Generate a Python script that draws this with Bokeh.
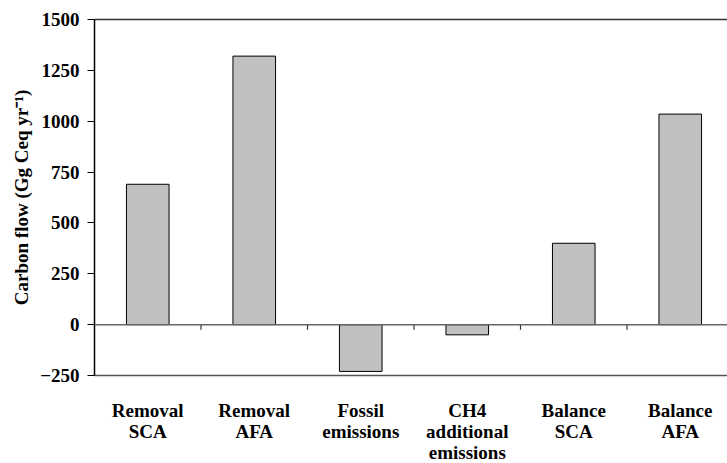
from bokeh.plotting import figure
from bokeh.models import Range1d, FixedTicker, LinearAxis, Span, ColumnDataSource
from bokeh.embed import file_html
from bokeh.resources import INLINE

categories = ["Removal\nSCA", "Removal\nAFA", "Fossil\nemissions",
              "CH4\nadditional\nemissions", "Balance\nSCA", "Balance\nAFA"]
values = [690, 1320, -230, -50, 400, 1035]
yticks = [-250, 0, 250, 500, 750, 1000, 1250, 1500]

FONT = "'Liberation Serif', 'Times New Roman', serif"
FS = "19px"

n = len(categories)
xpos = [i + 0.5 for i in range(n)]
bounds = [float(i) for i in range(1, n)]

src = ColumnDataSource(dict(x=xpos, top=values, cat=categories))

p = figure(frame_width=634, frame_height=356, output_backend="svg", toolbar_location=None,
           x_range=Range1d(0, 5.953), y_range=Range1d(-250, 1500),
           min_border_left=94, min_border_right=0, min_border_top=19,
           min_border_bottom=10)
p.outline_line_color = None
p.xgrid.visible = False
p.ygrid.visible = False
p.background_fill_color = "white"
p.border_fill_color = "white"

p.vbar(x="x", top="top", bottom=0, width=0.4, source=src,
       fill_color="#c0c0c0", line_color="black", line_width=1)

# zero line and category separator ticks
p.add_layout(Span(location=0, dimension="width", line_color="#666666", line_width=1.5))
p.segment(x0=bounds, y0=[0] * len(bounds), x1=bounds, y1=[-25] * len(bounds),
          line_color="#333333", line_width=1.2)

# y axis
ya = p.yaxis[0]
ya.ticker = FixedTicker(ticks=yticks)
ya.minor_tick_line_color = None
ya.major_tick_in = 0
ya.major_tick_out = 7
ya.major_tick_line_color = "black"
ya.axis_line_color = "black"
ya.axis_line_width = 1.5
ya.major_label_text_font = FONT
ya.major_label_text_font_style = "bold"
ya.major_label_text_font_size = FS
ya.major_label_text_color = "black"
ya.major_label_standoff = 8
ya.axis_label = "Carbon flow (Gg Ceq yr\u207b\u00b9)"
ya.axis_label_text_font = FONT
ya.axis_label_text_font_style = "bold"
ya.axis_label_text_font_size = FS
ya.axis_label_text_color = "black"
ya.axis_label_standoff = 5

# x axis (bottom line with category labels)
xa = p.xaxis[0]
xa.ticker = FixedTicker(ticks=xpos)
xa.major_label_overrides = {x: c for x, c in zip(xpos, categories)}
xa.major_tick_line_color = None
xa.minor_tick_line_color = None
xa.axis_line_color = "#555555"
xa.axis_line_width = 1.5
xa.major_label_text_font = FONT
xa.major_label_text_font_style = "bold"
xa.major_label_text_font_size = FS
xa.major_label_text_color = "black"
xa.major_label_text_line_height = 1.0
xa.major_label_standoff = 18

# top line
top = LinearAxis(ticker=FixedTicker(ticks=[]), major_tick_line_color=None,
                 minor_tick_line_color=None, axis_line_color="#333333",
                 axis_line_width=1.5)
p.add_layout(top, "above")

open("out.html", "w").write(file_html(p, INLINE))
